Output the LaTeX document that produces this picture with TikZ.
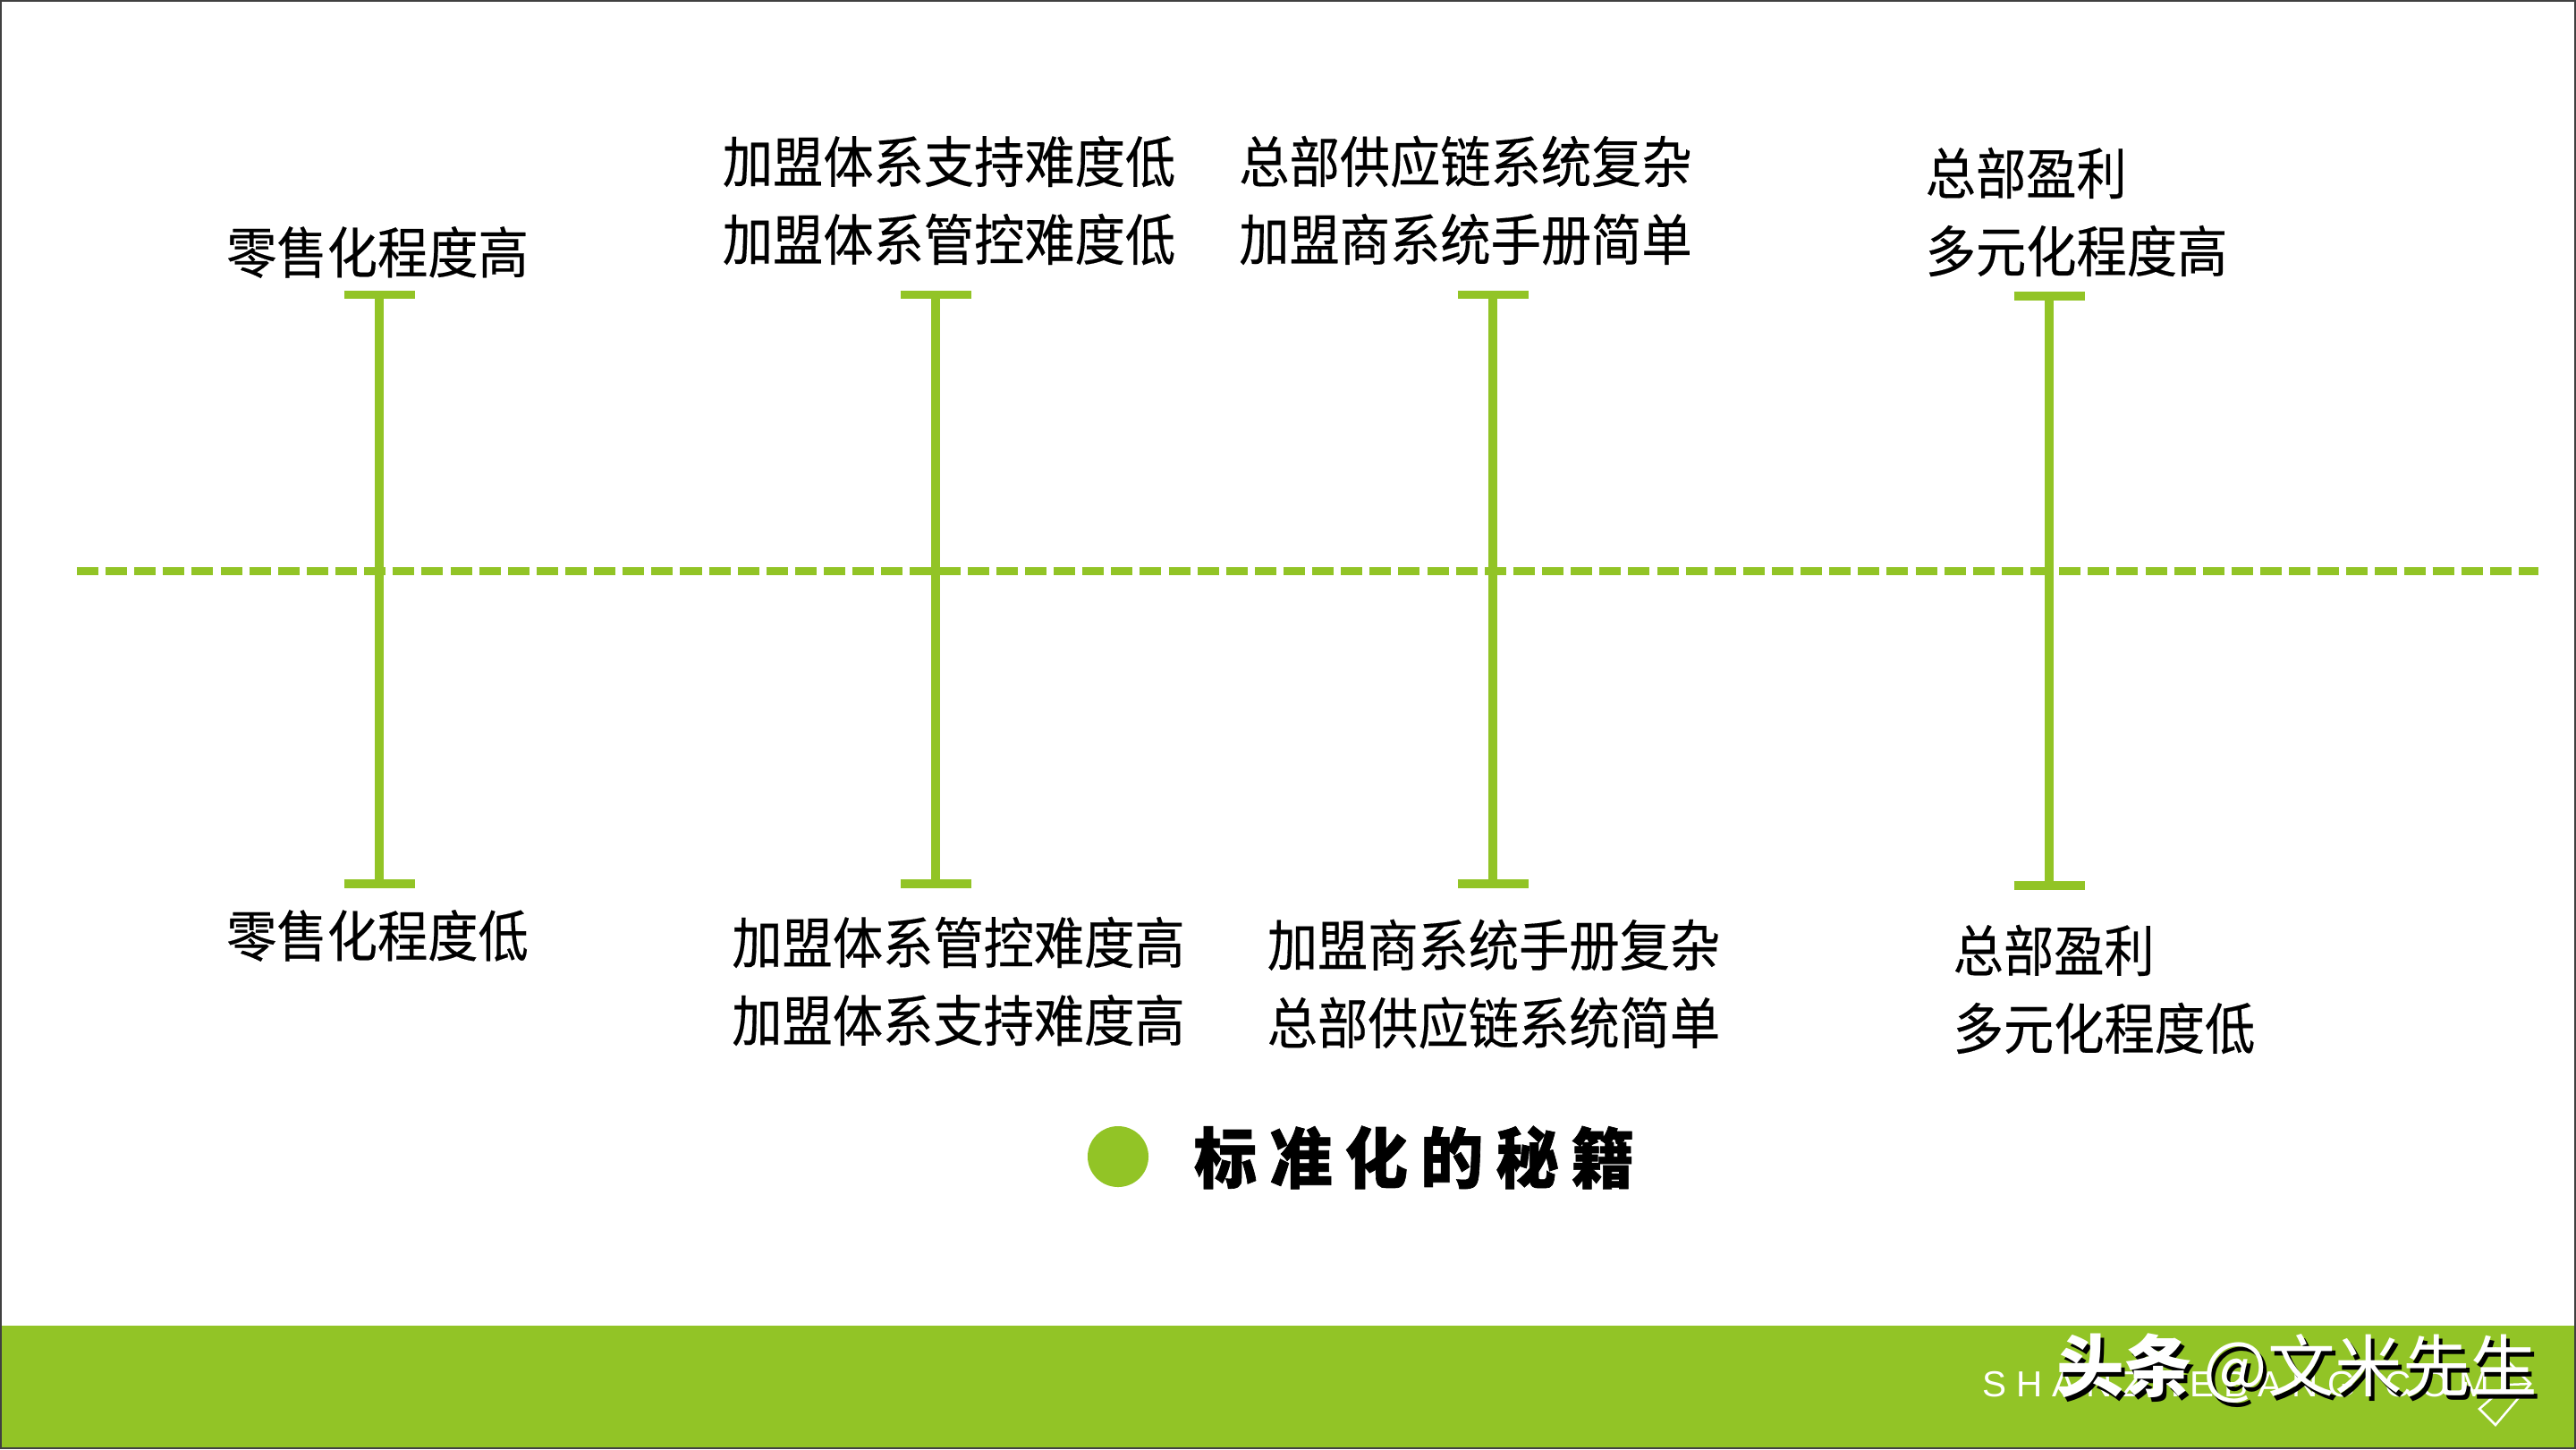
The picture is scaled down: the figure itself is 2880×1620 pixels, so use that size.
\documentclass[tikz,border=0pt]{standalone}
\usepackage{fontspec}
\setmainfont{Noto Sans CJK SC}
\newfontfamily\lblfont[FakeBold=0.3]{Noto Sans CJK SC}
\newfontfamily\heavyfont[BoldFeatures={FakeBold=0.9}]{Noto Sans CJK SC}
\newfontfamily\sansfont[LetterSpace=27]{Liberation Sans}
\definecolor{lime}{HTML}{92C426}
\tikzset{
  x=0.01cm,y=-0.01cm,
  lbl/.style={inner sep=0pt,align=left,text=black,yscale=1.1,transform shape,font=\lblfont\fontsize{16}{22.5}\selectfont},
  stem/.style={draw=lime,line width=0.095cm},
  axisline/.style={draw=lime,line width=0.09cm,dash pattern=on 0.24cm off 0.081cm},
  mark1/.style={inner sep=0pt,anchor=west},
}
\newcommand{\wmtext}{\bfseries 头条\,\mdseries @文米先生}
\begin{document}
\begin{tikzpicture}
\useasboundingbox (0,0) rectangle (2880,1620);
\fill[white] (0,0) rectangle (2880,1620);
\fill[lime] (0,1482) rectangle (2880,1620);
\draw[draw=black!75,line width=0.02cm] (1,1) rectangle (2879,1619);
% axis
\coordinate (al) at (86,638);
\coordinate (ar) at (2838,638);
\draw[axisline] (al) -- (ar);
% stems
\foreach \n/\x/\t/\b in {a/424/329.5/988,b/1046/329.5/988,c/1669/329.5/988,d/2291/331/990}{
  \coordinate (\n t) at (\x,\t);
  \coordinate (\n b) at (\x,\b);
  \coordinate (\n tl) at (\x-39.5,\t);
  \coordinate (\n tr) at (\x+39.5,\t);
  \coordinate (\n bl) at (\x-39.5,\b);
  \coordinate (\n br) at (\x+39.5,\b);
  \draw[stem] (\n t) -- (\n b);
  \draw[stem] (\n tl) -- (\n tr);
  \draw[stem] (\n bl) -- (\n br);
}
% labels
\node[lbl] (l1) at (422,282) {零售化程度高};
\node[lbl] (l2) at (422,1046) {零售化程度低};
\node[lbl] (l3) at (1061,224) {加盟体系支持难度低\\加盟体系管控难度低};
\node[lbl] (l4) at (1638.5,224) {总部供应链系统复杂\\加盟商系统手册简单};
\node[lbl,anchor=west] (l5) at (2152,237) {总部盈利\\多元化程度高};
\node[lbl] (l6) at (1071.5,1097) {加盟体系管控难度高\\加盟体系支持难度高};
\node[lbl] (l7) at (1670,1100) {加盟商系统手册复杂\\总部供应链系统简单};
\node[lbl,anchor=west] (l8) at (2183,1106) {总部盈利\\多元化程度低};
% title
\fill[lime] (1250,1293) circle (0.34cm);
\node[inner sep=0pt,yscale=1.05,transform shape,font=\heavyfont\fontsize{20}{24}\selectfont\bfseries] (title) at (1581,1294) {标\hspace{4pt}准\hspace{4pt}化\hspace{4pt}的\hspace{4pt}秘\hspace{4pt}籍};
% footer
\node[mark1,text=white,font=\sansfont\fontsize{11.5}{13}\selectfont] (sub) at (2216,1548) {SHANZHEBANG.COM};
\coordinate (k1) at (2789,1507);
\coordinate (k2) at (2829,1547);
\coordinate (k3) at (2790,1593);
\coordinate (k4) at (2772,1575);
\coordinate (k5) at (2803,1548);
\draw[white,line width=0.025cm] (k1) -- (k2) -- (k3) -- (k4) -- (k5) -- (k2);
% watermark
\node[mark1,text=black,font=\fontsize{21.5}{24}\selectfont] (wms) at (2303,1535) {\wmtext};
\node[mark1,text=white,font=\fontsize{21.5}{24}\selectfont] (wm) at (2299,1530) {\wmtext};
\end{tikzpicture}
\end{document}
